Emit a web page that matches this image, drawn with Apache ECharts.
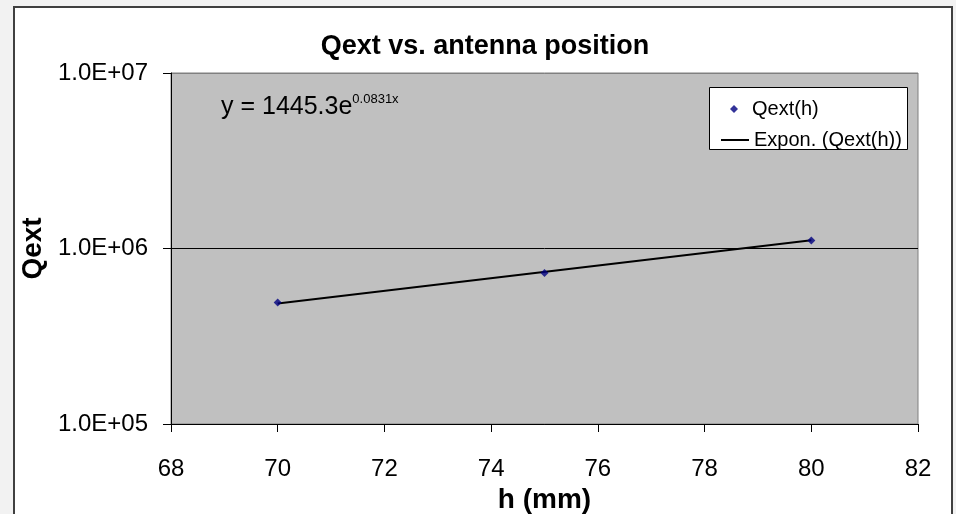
<!DOCTYPE html>
<html>
<head>
<meta charset="utf-8">
<script src="https://cdn.jsdelivr.net/npm/echarts@6/dist/echarts.min.js"></script>
<style>
html,body{margin:0;padding:0;background:#f2f2f2;}
#c{width:956px;height:514px;}
</style>
</head>
<body>
<div id="c"></div>
<script>
// Data
var hValues = [70, 75, 80];
var qextValues = [492000, 724000, 1110000];
var trendH = [70, 80];
var trendQ = [486000, 1114000];
var xTicks = [68, 70, 72, 74, 76, 78, 80, 82];
var yTicks = [1e5, 1e6, 1e7];
var equationMain = 'y = 1445.3e';
var equationExp = '0.0831x';

var FONT = '"Liberation Sans", Arial, sans-serif';

function fmtExp(v) {
  var e = Math.round(Math.log10(v));
  var m = v / Math.pow(10, e);
  var es = (e < 10 ? '0' : '') + e;
  return m.toFixed(1) + 'E+' + es;
}

var chart = echarts.init(document.getElementById('c'), null, {renderer: 'canvas'});
var option = {
  backgroundColor: '#f2f2f2',
  animation: false,
  title: {
    text: 'Qext vs. antenna position',
    left: 480, top: 28, textAlign: 'center',
    textStyle: {fontFamily: FONT, fontSize: 27, fontWeight: 'bold', color: '#000'}
  },
  graphic: [
    {type: 'rect', z: -10, shape: {x: 14, y: 7, width: 938, height: 520},
     style: {fill: '#ffffff', stroke: '#404040', lineWidth: 2}, silent: true},
    {type: 'rect', z: 50, shape: {x: 709.5, y: 87.5, width: 198, height: 62},
     style: {fill: '#ffffff', stroke: '#000000', lineWidth: 1}, silent: true},
    {type: 'text', z: 60, left: 221, top: 93,
     style: {
       text: '{a|' + equationMain + '}{b|' + equationExp + '}',
       rich: {
         a: {fontFamily: FONT, fontSize: 25, lineHeight: 28, fill: '#000'},
         b: {fontFamily: FONT, fontSize: 13, fill: '#000', verticalAlign: 'top', padding: [0, 0, 12, 0]}
       }
     }}
  ],
  legend: [
    {data: [{name: 'Qext(h)', icon: 'diamond'}], left: 725, top: 94, z: 70,
     itemWidth: 8, itemHeight: 8,
     textStyle: {fontFamily: FONT, fontSize: 20, color: '#000', padding: [0, 0, 0, 9]}},
    {data: [{name: 'Expon. (Qext(h))', icon: 'rect'}], left: 716, top: 125, z: 70,
     itemWidth: 28, itemHeight: 2,
     textStyle: {fontFamily: FONT, fontSize: 20, color: '#000', padding: [0, 0, 0, 0]}}
  ],
  grid: {
    left: 171, top: 73, width: 747, height: 351,
    containLabel: false, outerBoundsMode: 'none',
    show: true, backgroundColor: '#c0c0c0', borderColor: '#808080', borderWidth: 1
  },
  xAxis: {
    type: 'value', min: xTicks[0], max: xTicks[xTicks.length - 1], interval: 2,
    name: 'h (mm)', nameLocation: 'middle', nameGap: 58,
    nameTextStyle: {fontFamily: FONT, fontSize: 28, fontWeight: 'bold', color: '#000'},
    axisLine: {show: true, onZero: false, lineStyle: {color: '#000', width: 1}},
    axisTick: {show: true, inside: false, length: 8, lineStyle: {color: '#000'}},
    axisLabel: {fontFamily: FONT, fontSize: 24, color: '#000', margin: 33},
    splitLine: {show: false}
  },
  yAxis: {
    type: 'log', logBase: 10, min: yTicks[0], max: yTicks[yTicks.length - 1],
    name: 'Qext', nameLocation: 'middle', nameGap: 114,
    nameTextStyle: {fontFamily: FONT, fontSize: 28, fontWeight: 'bold', color: '#000'},
    axisLine: {show: true, lineStyle: {color: '#000', width: 1}},
    axisTick: {show: true, inside: false, length: 8, lineStyle: {color: '#000'}},
    axisLabel: {fontFamily: FONT, fontSize: 24, color: '#000', margin: 23, formatter: fmtExp},
    splitLine: {show: true, lineStyle: {color: ['#000', '#000', '#808080'], width: 1}},
    minorTick: {show: false}
  },
  series: [
    {
      name: 'Expon. (Qext(h))', type: 'line', z: 3,
      data: trendH.map(function (h, i) { return [h, trendQ[i]]; }),
      showSymbol: false, symbol: 'none',
      lineStyle: {color: '#000', width: 2},
      itemStyle: {color: '#000'}
    },
    {
      name: 'Qext(h)', type: 'scatter', z: 4,
      data: hValues.map(function (h, i) { return [h, qextValues[i]]; }),
      symbol: 'diamond', symbolSize: 8,
      itemStyle: {color: '#000080'}
    }
  ]
};
chart.setOption(option);
</script>
</body>
</html>
